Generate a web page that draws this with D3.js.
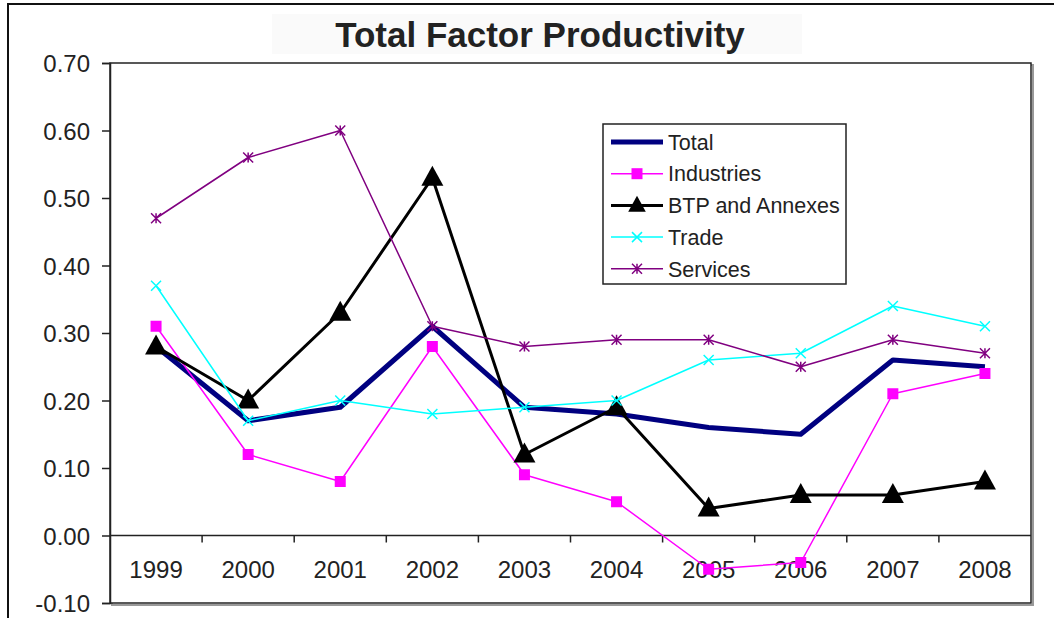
<!DOCTYPE html>
<html>
<head>
<meta charset="utf-8">
<script src="https://cdn.jsdelivr.net/npm/d3@7"></script>
<style>
  body { margin: 0; background: #fff; }
  text { font-family: "Liberation Sans", Arial, sans-serif; fill: #222; }
</style>
</head>
<body>
<svg width="1054" height="618"></svg>
<script>
'use strict';

const years = ["1999", "2000", "2001", "2002", "2003", "2004", "2005", "2006", "2007", "2008"];
const total = [0.28, 0.17, 0.19, 0.31, 0.19, 0.18, 0.16, 0.15, 0.26, 0.25];
const industries = [0.31, 0.12, 0.08, 0.28, 0.09, 0.05, -0.05, -0.04, 0.21, 0.24];
const btp = [0.28, 0.20, 0.33, 0.53, 0.12, 0.19, 0.04, 0.06, 0.06, 0.08];
const trade = [0.37, 0.17, 0.20, 0.18, 0.19, 0.20, 0.26, 0.27, 0.34, 0.31];
const services = [0.47, 0.56, 0.60, 0.31, 0.28, 0.29, 0.29, 0.25, 0.29, 0.27];
const yTicks = [-0.1, 0, 0.1, 0.2, 0.3, 0.4, 0.5, 0.6, 0.7];

const series = [
  {name: "Total", values: total, color: "#000080", width: 5, marker: "none"},
  {name: "Industries", values: industries, color: "#ff00ff", width: 1.5, marker: "square"},
  {name: "BTP and Annexes", values: btp, color: "#000000", width: 3, marker: "triangle"},
  {name: "Trade", values: trade, color: "#00ffff", width: 1.5, marker: "x"},
  {name: "Services", values: services, color: "#800080", width: 1.5, marker: "star"}
];

const svg = d3.select("svg");
const plotLeft = 110, plotRight = 1031, plotTop = 63, plotBottom = 603;

// outer frame
svg.append("path")
  .attr("d", "M8,618 V4 H1054")
  .attr("fill", "none").attr("stroke", "#111").attr("stroke-width", 2);

// title
svg.append("rect").attr("x", 272).attr("y", 14).attr("width", 530).attr("height", 40).attr("fill", "#fafafa");
svg.append("text")
  .attr("x", 540).attr("y", 47)
  .attr("text-anchor", "middle")
  .style("font-size", "35px").style("font-weight", "bold")
  .text("Total Factor Productivity");

const x = d3.scalePoint().domain(years).range([plotLeft, plotRight]).padding(0.5);
const y = d3.scaleLinear().domain([-0.1, 0.7]).range([plotBottom, plotTop]);
const band = x.step();

// plot frame with shadow
svg.append("rect").attr("x", plotLeft + 2).attr("y", plotTop + 2).attr("width", plotRight - plotLeft).attr("height", plotBottom - plotTop)
  .attr("fill", "none").attr("stroke", "#999").attr("stroke-width", 2);
svg.append("rect").attr("x", plotLeft).attr("y", plotTop).attr("width", plotRight - plotLeft).attr("height", plotBottom - plotTop)
  .attr("fill", "#fff").attr("stroke", "#222").attr("stroke-width", 1.5);

// y axis
const fmt = d3.format(".2f");
const yAxis = svg.append("g").attr("transform", `translate(${plotLeft},0)`)
  .call(d3.axisLeft(y).tickValues(yTicks).tickFormat(d => fmt(d).replace("\u2212", "-")).tickSize(8).tickPadding(12));
yAxis.select(".domain").attr("stroke", "#222").attr("stroke-width", 1.5);
yAxis.selectAll(".tick line").attr("stroke", "#222").attr("stroke-width", 1.5);
yAxis.selectAll("text").style("font-size", "24px").style("font-family", "'Liberation Sans', Arial, sans-serif")
  .attr("fill", "#222").attr("dy", "0.36em");

// x axis at zero
const y0 = y(0);
svg.append("line").attr("x1", plotLeft).attr("x2", plotRight).attr("y1", y0).attr("y2", y0)
  .attr("stroke", "#222").attr("stroke-width", 1.5);
svg.selectAll(".xtick").data(years.slice(1)).join("line")
  .attr("class", "xtick")
  .attr("x1", d => x(d) - band / 2).attr("x2", d => x(d) - band / 2)
  .attr("y1", y0).attr("y2", y0 + 7)
  .attr("stroke", "#222").attr("stroke-width", 1.5);
svg.selectAll(".xlabel").data(years).join("text")
  .attr("class", "xlabel")
  .attr("x", d => x(d)).attr("y", y0 + 42)
  .attr("text-anchor", "middle")
  .style("font-size", "24px")
  .text(d => d);

function drawMarker(g, type, color, cx, cy, s) {
  if (type === "square") {
    g.append("rect").attr("x", cx - s * 5.5).attr("y", cy - s * 5.5).attr("width", s * 11).attr("height", s * 11).attr("fill", color);
  } else if (type === "triangle") {
    g.append("path").attr("d", `M${cx},${cy - s * 12}L${cx + s * 11},${cy + s * 8}L${cx - s * 11},${cy + s * 8}Z`).attr("fill", color);
  } else if (type === "x") {
    const r = s * 5;
    g.append("path").attr("d", `M${cx - r},${cy - r}L${cx + r},${cy + r}M${cx - r},${cy + r}L${cx + r},${cy - r}`)
      .attr("stroke", color).attr("stroke-width", 1.5);
  } else if (type === "star") {
    const r = s * 5;
    g.append("path").attr("d", `M${cx - r},${cy - r}L${cx + r},${cy + r}M${cx - r},${cy + r}L${cx + r},${cy - r}M${cx},${cy - r}L${cx},${cy + r}`)
      .attr("stroke", color).attr("stroke-width", 1.5);
  }
}

const line = d3.line().x((d, i) => x(years[i])).y(d => y(d));

series.forEach(s => {
  const g = svg.append("g");
  g.append("path").attr("d", line(s.values))
    .attr("fill", "none").attr("stroke", s.color).attr("stroke-width", s.width)
    .attr("stroke-linejoin", "round");
  s.values.forEach((v, i) => drawMarker(g, s.marker, s.color, x(years[i]), y(v), 1));
});

// legend
const lg = svg.append("g");
lg.append("rect").attr("x", 603).attr("y", 124).attr("width", 243).attr("height", 160)
  .attr("fill", "#fff").attr("stroke", "#222").attr("stroke-width", 1.5);
series.forEach((s, i) => {
  const ly = 142 + i * 31.7;
  lg.append("line").attr("x1", 611).attr("x2", 663).attr("y1", ly).attr("y2", ly)
    .attr("stroke", s.color).attr("stroke-width", s.width);
  drawMarker(lg, s.marker, s.color, 637, ly, s.marker === "triangle" ? 0.8 : 1);
  lg.append("text").attr("x", 668).attr("y", ly).attr("dy", "0.36em")
    .style("font-size", "21.5px").text(s.name);
});
</script>
</body>
</html>
